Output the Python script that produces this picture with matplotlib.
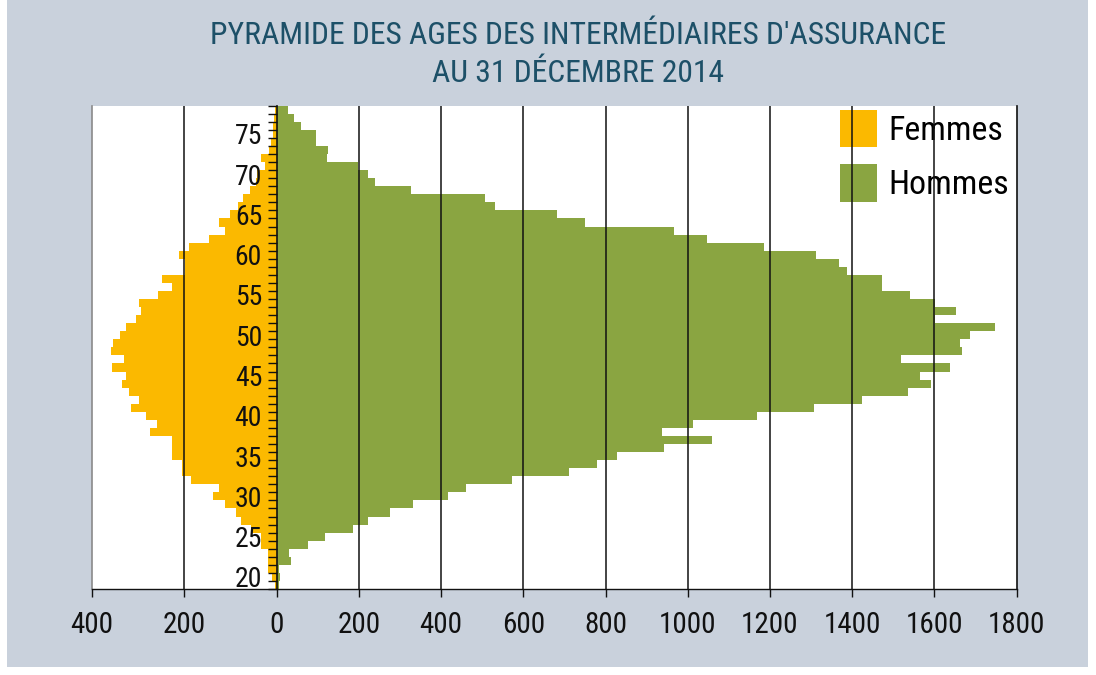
import matplotlib
matplotlib.use("Agg")
import matplotlib.pyplot as plt
import numpy as np
from matplotlib import font_manager as fm
from matplotlib.patches import Patch, Rectangle

# --- data (ages 19 -> 78) ---
ages = list(range(19, 79))
femmes = [4, 11, 19, 19, 19, 34, 34, 56, 77, 88,
          112, 138, 124, 185, 204, 204, 226, 226, 226, 274,
          259, 283, 315, 298, 319, 334, 326, 356, 330, 358,
          354, 339, 326, 304, 293, 298, 257, 226, 248, 198,
          198, 211, 190, 146, 112, 124, 101, 83, 72, 58,
          45, 42, 25, 34, 16, 12, 8, 8, 6, 4]
hommes = [6, 8, 6, 35, 30, 76, 117, 186, 222, 276,
          332, 417, 460, 572, 711, 779, 828, 943, 1059, 937,
          1013, 1169, 1307, 1424, 1536, 1592, 1565, 1638, 1519, 1667,
          1662, 1687, 1748, 1602, 1654, 1602, 1541, 1473, 1473, 1388,
          1368, 1312, 1186, 1047, 967, 750, 682, 531, 507, 327,
          239, 222, 199, 122, 125, 96, 96, 59, 42, 27]

left_ticks = [400, 200]
right_ticks = [0, 200, 400, 600, 800, 1000, 1200, 1400, 1600, 1800]
age_labels = [20, 25, 30, 35, 40, 45, 50, 55, 60, 65, 70, 75]

title_lines = ["PYRAMIDE DES AGES DES INTERMÉDIAIRES D'ASSURANCE",
               "AU 31 DÉCEMBRE 2014"]

YELLOW = "#fbb900"
GREEN = "#8aa541"
BG = "#c9d1dc"
TITLE_COLOR = "#1d5068"
INK = "#111111"


def narrow_font():
    """Pick a condensed regular face if one is installed."""
    good = []
    for f in fm.fontManager.ttflist:
        if f.style != "normal" or f.weight not in (400, "normal", "regular"):
            continue
        narrow = ("Narrow" in f.name or "Condensed" in f.name
                  or "condensed" in str(f.stretch))
        if narrow and "Mono" not in f.name and "Serif" not in f.name:
            rank = 0 if "Liberation" in f.name else 1 if "Roboto" in f.name else 2
            good.append((rank, f.fname))
    if good:
        return fm.FontProperties(fname=sorted(good)[0][1])
    return fm.FontProperties(family=["Liberation Sans", "DejaVu Sans"])


FP = narrow_font()


def fp(size):
    p = FP.copy()
    p.set_size(size)
    return p


W, H = 1096, 675
fig = plt.figure(figsize=(W / 100, H / 100), dpi=100, facecolor="white")
fig.patches.append(Rectangle((7 / W, 8 / H), 1081 / W, 1 - 8 / H,
                             transform=fig.transFigure, facecolor=BG,
                             edgecolor="none", zorder=-5))

x0, x_mid, x1 = 91.7, 276.7, 1016.5
y_bot, y_top = 589, 105.7
bottom = (H - y_bot) / H
height = (y_bot - y_top) / H
ax_l = fig.add_axes([x0 / W, bottom, (x_mid - x0) / W, height])
ax_r = fig.add_axes([x_mid / W, bottom, (x1 - x_mid) / W, height])
ax_l.set_zorder(1)
ax_r.set_zorder(3)

ax_l.barh(ages, femmes, height=1.0, color=YELLOW, edgecolor="none", zorder=1)
ax_r.barh(ages, hommes, height=1.0, color=GREEN, edgecolor="none", zorder=1)

for ax in (ax_l, ax_r):
    ax.set_ylim(18.5, 78.5)
    ax.set_facecolor("white")
    ax.spines["top"].set_visible(False)
    ax.spines["bottom"].set_color(INK)
    ax.spines["bottom"].set_linewidth(1.0)
    ax.tick_params(axis="x", direction="out", length=5.5, width=1.0,
                   color=INK, pad=10, labelcolor=INK)

# left (femmes) axis, mirrored
ax_l.set_xlim(400, 0)
ax_l.set_xticks(left_ticks)
ax_l.set_xticklabels([str(t) for t in left_ticks])
ax_l.set_yticks([])
ax_l.spines["right"].set_visible(False)
ax_l.spines["left"].set_color("#8a8a8a")
ax_l.spines["left"].set_linewidth(1.2)
for t in left_ticks[1:]:
    ax_l.axvline(t, color=INK, lw=1.1, zorder=6)

# right (hommes) axis
ax_r.set_xlim(0, 1800)
ax_r.set_xticks(right_ticks)
ax_r.set_xticklabels([str(t) for t in right_ticks])
ax_r.spines["left"].set_color(INK)
ax_r.spines["left"].set_linewidth(1.2)
ax_r.spines["right"].set_color(INK)
ax_r.spines["right"].set_linewidth(1.2)
for t in right_ticks[1:-1]:
    ax_r.axvline(t, color=INK, lw=1.1, zorder=6)

ax_r.set_yticks(age_labels)
ax_r.set_yticklabels([str(a) for a in age_labels])
ax_r.set_yticks(np.arange(18.5, 79, 1.0), minor=True)
ax_r.tick_params(axis="y", which="major", length=0, pad=10.5, labelcolor=INK)
ax_r.tick_params(axis="y", which="minor", direction="out", length=6.5,
                 width=1.0, color=INK)

for ax in (ax_l, ax_r):
    for lab in ax.get_xticklabels():
        lab.set_fontproperties(fp(21))
for lab in ax_r.get_yticklabels():
    lab.set_fontproperties(fp(20))

handles = [Patch(facecolor=YELLOW, edgecolor="none", label="Femmes"),
           Patch(facecolor=GREEN, edgecolor="none", label="Hommes")]
ax_r.legend(handles=handles, loc="upper left", bbox_to_anchor=(0.7614, 0.9915),
            frameon=False, prop=fp(24.5), handlelength=1.09, handleheight=1.32,
            handletextpad=0.33, labelspacing=0.49, borderpad=0,
            borderaxespad=0)

fig.text(578 / W, 1 - 35 / H, title_lines[0], ha="center", va="center",
         fontproperties=fp(22.8), color=TITLE_COLOR)
fig.text(578 / W, 1 - 74 / H, title_lines[1], ha="center", va="center",
         fontproperties=fp(22.8), color=TITLE_COLOR)

fig.savefig("out.png", dpi=100, facecolor=fig.get_facecolor())
